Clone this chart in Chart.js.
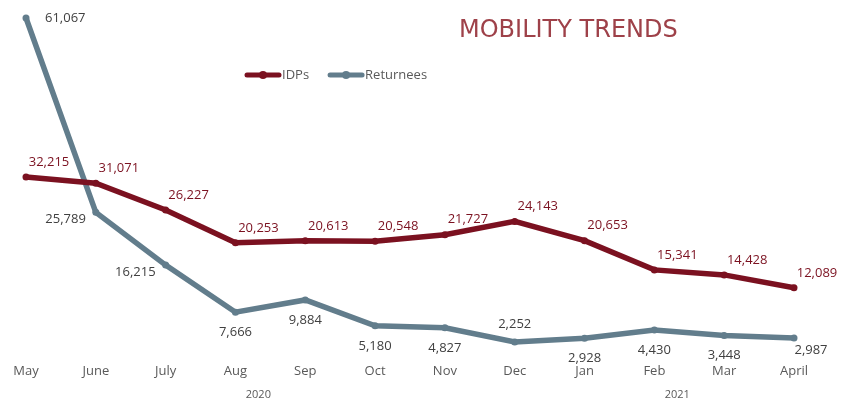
<!DOCTYPE html>
<html>
<head>
<meta charset="utf-8">
<script src="https://cdn.jsdelivr.net/npm/chart.js@4.4.1/dist/chart.umd.min.js"></script>
<style>
  html, body { margin: 0; padding: 0; background: #fff; }
  #wrap { width: 841px; height: 403px; position: relative; }
</style>
</head>
<body>
<div id="wrap"><canvas id="chart"></canvas></div>
<script>
const months = ["May", "June", "July", "Aug", "Sep", "Oct", "Nov", "Dec", "Jan", "Feb", "Mar", "April"];
const idps = [32215, 31071, 26227, 20253, 20613, 20548, 21727, 24143, 20653, 15341, 14428, 12089];
const returnees = [61067, 25789, 16215, 7666, 9884, 5180, 4827, 2252, 2928, 4430, 3448, 2987];
const years = ["2020", "2021"];
const yearFirstMonth = [0, 8];
const yearLastMonth = [7, 11];

// where each data label sits relative to its point
const idpsLabelPos = ["aboveRight", "aboveRight", "aboveRight", "aboveRight", "aboveRight", "aboveRight",
  "aboveRight", "aboveRight", "aboveRight", "aboveRight", "aboveRight", "aboveRight"];
const returneesLabelPos = ["right", "left", "left", "below", "below", "below",
  "below", "above", "below", "below", "below", "belowRight"];

const IDP_COLOR = "#7b1120";
const RET_COLOR = "#627d8c";
const FONT = "'Open Sans', sans-serif";

const fmt = (v) => v.toLocaleString("en-US");

const labelsPlugin = {
  id: "pointLabels",
  afterDatasetsDraw(chart) {
    const ctx = chart.ctx;
    ctx.save();
    ctx.font = "13px " + FONT;
    ctx.textBaseline = "middle";
    chart.data.datasets.forEach((ds, di) => {
      const meta = chart.getDatasetMeta(di);
      ctx.fillStyle = ds.labelColor;
      meta.data.forEach((pt, i) => {
        const text = fmt(ds.data[i]);
        let x = pt.x, y = pt.y;
        ctx.textAlign = "center";
        switch (ds.labelPos[i]) {
          case "aboveRight": x += 23; y -= 15; break;
          case "right": ctx.textAlign = "left"; x += 19; break;
          case "left": ctx.textAlign = "right"; x -= 10; y += 7; break;
          case "below": y += 20; break;
          case "above": y -= 18; break;
          case "belowRight": x += 17; y += 12; break;
        }
        ctx.fillText(text, x, y);
      });
    });
    ctx.restore();
  }
};

const decorPlugin = {
  id: "decor",
  afterDraw(chart) {
    const ctx = chart.ctx;
    const xs = chart.scales.x;
    ctx.save();

    // title
    ctx.font = "24px 'DejaVu Sans', sans-serif";
    ctx.fillStyle = "#9e4149";
    ctx.textAlign = "left";
    ctx.textBaseline = "alphabetic";
    ctx.fillText("MOBILITY TRENDS", 459, 37);

    // legend
    let lx = 245;
    const ly = 75;
    ctx.font = "13px " + FONT;
    ctx.textBaseline = "middle";
    chart.data.datasets.forEach((ds) => {
      ctx.strokeStyle = ds.borderColor;
      ctx.lineWidth = 5;
      ctx.lineCap = "round";
      ctx.beginPath();
      ctx.moveTo(lx + 2, ly);
      ctx.lineTo(lx + 34, ly);
      ctx.stroke();
      ctx.fillStyle = ds.borderColor;
      ctx.beginPath();
      ctx.arc(lx + 18, ly, 4, 0, Math.PI * 2);
      ctx.fill();
      ctx.fillStyle = "#595959";
      ctx.textAlign = "left";
      ctx.fillText(ds.label, lx + 37, ly);
      lx += 37 + ctx.measureText(ds.label).width + 19;
    });

    // year row under month labels
    ctx.font = "11px " + FONT;
    ctx.fillStyle = "#595959";
    ctx.textAlign = "center";
    years.forEach((yr, i) => {
      const a = xs.getPixelForValue(yearFirstMonth[i]);
      const b = xs.getPixelForValue(yearLastMonth[i]);
      ctx.fillText(yr, (a + b) / 2 - 12, 395);
    });
    ctx.restore();
  }
};

new Chart(document.getElementById("chart"), {
  type: "line",
  data: {
    labels: months,
    datasets: [
      {
        label: "IDPs",
        data: idps,
        borderColor: IDP_COLOR,
        backgroundColor: IDP_COLOR,
        labelColor: IDP_COLOR,
        labelPos: idpsLabelPos,
        borderWidth: 5.5,
        pointRadius: 3.5,
        pointBorderWidth: 0,
        tension: 0,
        clip: false
      },
      {
        label: "Returnees",
        data: returnees,
        borderColor: RET_COLOR,
        backgroundColor: RET_COLOR,
        labelColor: "#404040",
        labelPos: returneesLabelPos,
        borderWidth: 5.5,
        pointRadius: 3.5,
        pointBorderWidth: 0,
        tension: 0,
        clip: false
      }
    ]
  },
  options: {
    responsive: true,
    maintainAspectRatio: false,
    animation: false,
    layout: { padding: { left: 26, right: 47, top: 18, bottom: 15 } },
    plugins: {
      legend: { display: false },
      title: { display: false },
      tooltip: { enabled: false }
    },
    scales: {
      x: {
        offset: false,
        grid: { display: false, drawTicks: false },
        border: { display: false },
        ticks: {
          color: "#595959",
          font: { family: FONT, size: 13 },
          padding: 9,
          maxRotation: 0,
          autoSkip: false
        }
      },
      y: {
        display: false,
        min: 0,
        max: Math.max(...returnees)
      }
    }
  },
  plugins: [labelsPlugin, decorPlugin]
});
</script>
</body>
</html>
